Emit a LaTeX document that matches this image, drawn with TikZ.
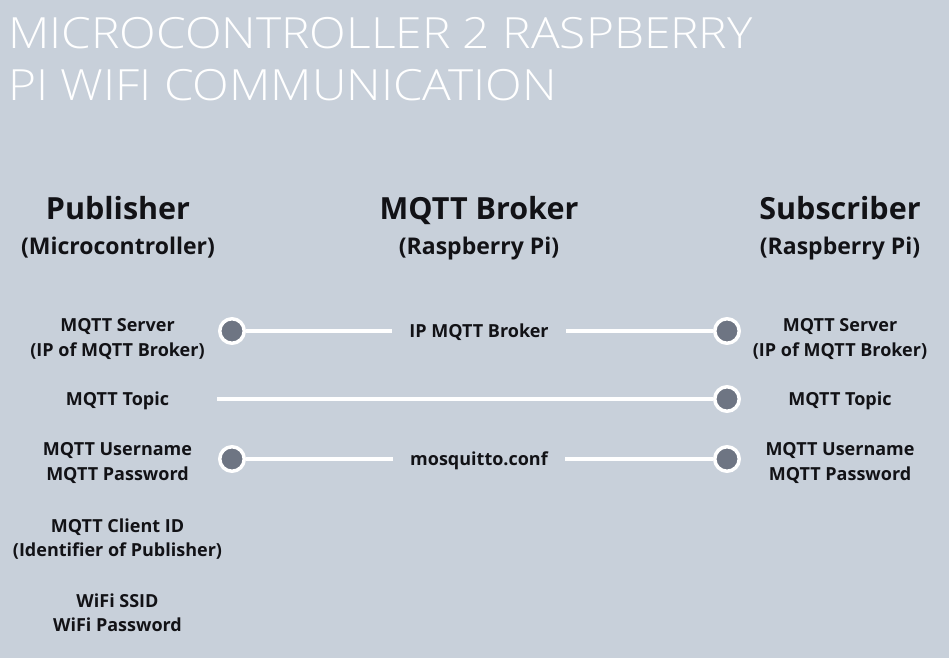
\documentclass[tikz,border=0pt]{standalone}
\usepackage{fontspec}
\setmainfont{Open Sans}
\newfontfamily\titlefont{Open Sans Light}[FakeStretch=1.114]
\usetikzlibrary{positioning}
\definecolor{bgblue}{RGB}{200,208,218}
\definecolor{dotgrey}{RGB}{110,117,131}
\definecolor{ink}{RGB}{18,18,22}

\begin{document}
\begin{tikzpicture}[x=1pt, y=-1pt, auto,
    title/.style={anchor=base west, inner sep=0pt, text=white, font=\titlefont\fontsize{43}{51}\selectfont},
    head/.style={anchor=base, text=ink, inner sep=0pt, font=\fontsize{30.5}{36}\selectfont\bfseries},
    subhead/.style={anchor=base, text=ink, inner sep=0pt, font=\fontsize{23}{28}\selectfont\bfseries},
    item/.style={text=ink, inner sep=0pt, align=center, font=\fontsize{18}{24.5}\selectfont\bfseries},
    midlabel/.style={item, inner xsep=17pt, text height=12.85pt, text depth=0pt},
    dot/.style={circle, draw=white, line width=3.5pt, fill=dotgrey, minimum size=24.5pt, inner sep=0pt},
    link/.style={white, line width=4pt}]
                    % Background
                    \fill[bgblue] (0,0) rectangle (949,658);
                    \useasboundingbox (0,0) rectangle (949,658);

                    % Title
                    \node (titletop) [title] at (8,49) {MICROCONTROLLER 2 RASPBERRY};
                    \node (titlebottom) [title] at (8,100) {PI WIFI COMMUNICATION};

                    % Column heads
                    \node (pub) [head] at (118,219) {Publisher};
                    \node (broker) [head] at (479,219) {MQTT Broker};
                    \node (sub) [head] at (840,219) {Subscriber};
                    \node (pubdev) [subhead] at (118,254) {(Microcontroller)};
                    \node (brokerdev) [subhead] at (479,254) {(Raspberry Pi)};
                    \node (subdev) [subhead] at (840,254) {(Raspberry Pi)};

                    % Publisher side
                    \node (pubserver) [item] at (117.5,339) {MQTT Server\\(IP of MQTT Broker)};
                    \node (pubtopic) [item] at (117.5,401) {MQTT Topic};
                    \node (publogin) [item] at (117.5,463) {MQTT Username\\MQTT Password};
                    \node (pubclient) [item] at (117.5,539) {MQTT Client ID\\(Identifier of Publisher)};
                    \node (pubwifi) [item] at (117.5,612.5) {WiFi SSID\\WiFi Password};

                    % Subscriber side
                    \node (subserver) [item] at (840,339) {MQTT Server\\(IP of MQTT Broker)};
                    \node (subtopic) [item] at (840,401) {MQTT Topic};
                    \node (sublogin) [item] at (840,463) {MQTT Username\\MQTT Password};

                    % Broker labels
                    \node (ipbroker) [midlabel] at (479,331) {IP MQTT Broker};
                    \node (mosquitto) [midlabel] at (479,459) {mosquitto.conf};

                    % Dots
                    \node (pubserverdot) [dot] at (232,331) {};
                    \node (subserverdot) [dot] at (727,331) {};
                    \node (subtopicdot) [dot] at (727,399) {};
                    \node (publogindot) [dot] at (232,459) {};
                    \node (sublogindot) [dot] at (727,459) {};
                    \coordinate (topicstart) at (217,399);

                    % Lines
                    \draw[link] (pubserverdot) -- (ipbroker);
                    \draw[link] (ipbroker) -- (subserverdot);
                    \draw[link] (topicstart) -- (subtopicdot);
                    \draw[link] (publogindot) -- (mosquitto);
                    \draw[link] (mosquitto) -- (sublogindot);
                \end{tikzpicture}
\end{document}
